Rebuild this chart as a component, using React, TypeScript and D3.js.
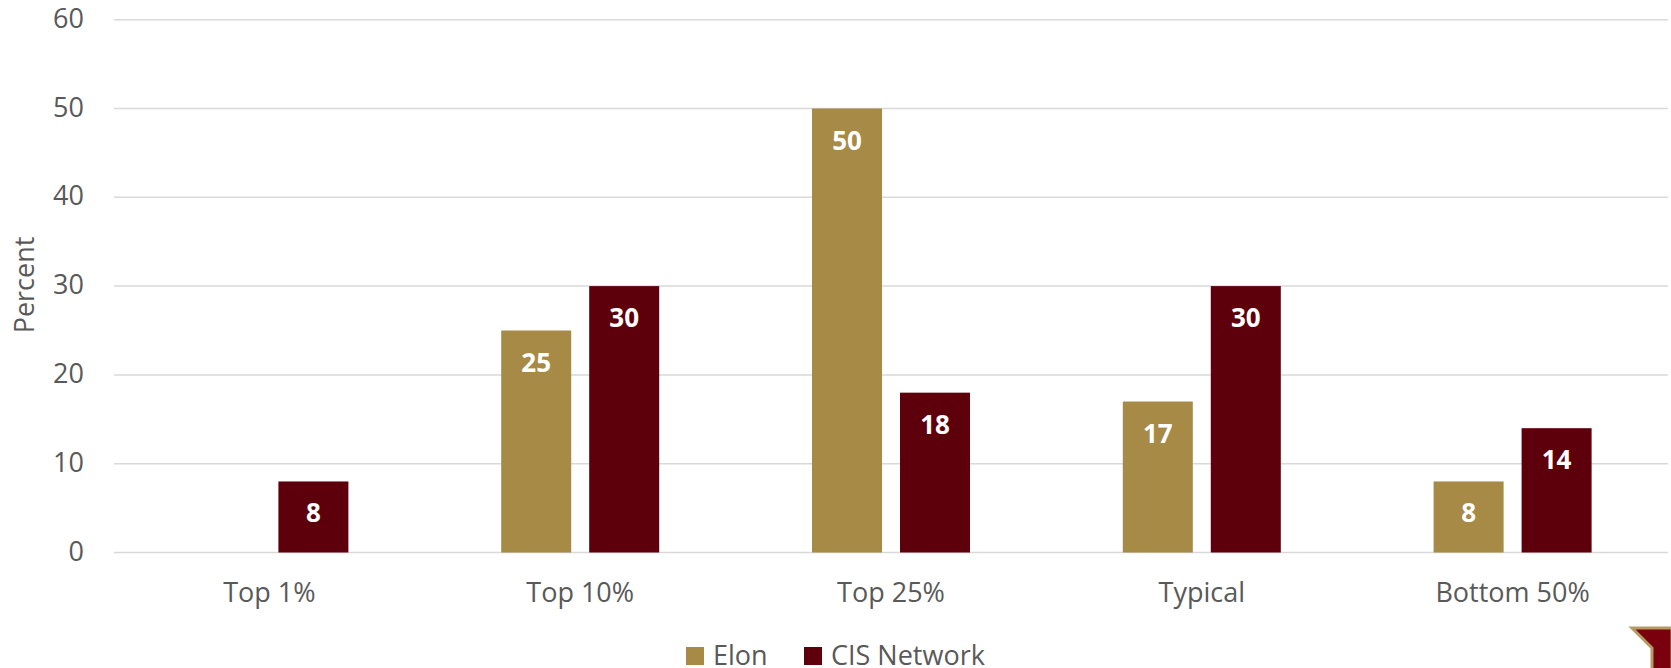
import React, { useRef, useEffect } from "react";
import * as d3 from "d3";

// chart data
const categories = ["Top 1%", "Top 10%", "Top 25%", "Typical", "Bottom 50%"];
const seriesNames = ["Elon", "CIS Network"];
const elonValues = [null, 25, 50, 17, 8];
const cisValues = [8, 30, 18, 30, 14];
const yTicks = [0, 10, 20, 30, 40, 50, 60];

const colors = ["#A68A46", "#5E000C"];

const App: React.FC = () => {
  const svgRef = useRef<SVGSVGElement>(null);

  useEffect(() => {
    const width = 1671;
    const height = 668;
    const left = 114;
    const right = 1668;
    const top = 19.7;
    const bottom = 552.5;
    const font = "'Open Sans', sans-serif";

    const svg = d3.select(svgRef.current);
    svg.selectAll("*").remove();
    svg.attr("width", width).attr("height", height);

    const x = d3.scaleBand<string>().domain(categories).range([left, right]);
    const y = d3.scaleLinear().domain([0, 60]).range([bottom, top]);

    // gridlines
    svg
      .append("g")
      .selectAll("line")
      .data(yTicks)
      .join("line")
      .attr("x1", left)
      .attr("x2", right)
      .attr("y1", (d) => y(d))
      .attr("y2", (d) => y(d))
      .attr("stroke", "#d9d9d9")
      .attr("stroke-width", 1.5);

    // y tick labels
    svg
      .append("g")
      .selectAll("text")
      .data(yTicks)
      .join("text")
      .attr("x", 84)
      .attr("y", (d) => y(d) + 8)
      .attr("text-anchor", "end")
      .attr("font-family", font)
      .attr("font-size", 27)
      .attr("fill", "#595959")
      .text((d) => d);

    // y title
    svg
      .append("text")
      .attr("transform", "translate(34,285) rotate(-90)")
      .attr("text-anchor", "middle")
      .attr("font-family", font)
      .attr("font-size", 27)
      .attr("fill", "#595959")
      .text("Percent");

    // x labels
    svg
      .append("g")
      .selectAll("text")
      .data(categories)
      .join("text")
      .attr("x", (d) => x(d)! + x.bandwidth() / 2)
      .attr("y", 602)
      .attr("text-anchor", "middle")
      .attr("font-family", font)
      .attr("font-size", 27)
      .attr("fill", "#595959")
      .text((d) => d);

    const rows = categories.flatMap((c, i) => [
      { cat: c, s: 0, v: elonValues[i] },
      { cat: c, s: 1, v: cisValues[i] },
    ]).filter((r) => r.v != null) as { cat: string; s: number; v: number }[];

    const xs = d3.scaleBand<number>().domain([0, 1]).range([-79, 79]).paddingInner(0.2045);

    const bars = svg.append("g");
    bars
      .selectAll("rect")
      .data(rows)
      .join("rect")
      .attr("x", (d) => x(d.cat)! + x.bandwidth() / 2 + xs(d.s)!)
      .attr("width", xs.bandwidth())
      .attr("y", (d) => y(d.v))
      .attr("height", (d) => y(0) - y(d.v))
      .attr("fill", (d) => colors[d.s]);

    bars
      .selectAll("text")
      .data(rows)
      .join("text")
      .attr("x", (d) => x(d.cat)! + x.bandwidth() / 2 + xs(d.s)! + xs.bandwidth() / 2)
      .attr("y", (d) => y(d.v) + 41)
      .attr("text-anchor", "middle")
      .attr("font-family", font)
      .attr("font-size", 26)
      .attr("font-weight", "bold")
      .attr("fill", "#ffffff")
      .text((d) => d.v);

    // legend
    const legendX = [686, 804];
    const legend = svg.append("g");
    legend
      .selectAll("rect")
      .data(seriesNames)
      .join("rect")
      .attr("x", (_, i) => legendX[i])
      .attr("y", 647)
      .attr("width", 18)
      .attr("height", 18)
      .attr("fill", (_, i) => colors[i]);
    legend
      .selectAll("text")
      .data(seriesNames)
      .join("text")
      .attr("x", (_, i) => legendX[i] + 27)
      .attr("y", 665)
      .attr("font-family", font)
      .attr("font-size", 27)
      .attr("fill", "#595959")
      .text((d) => d);

    // corner logo fragment
    svg
      .append("path")
      .attr("d", "M1632,628 L1672,628 L1672,670 L1652,670 L1652,648 Z")
      .attr("fill", "#7a000e")
      .attr("stroke", "#b59a62")
      .attr("stroke-width", 3);
  }, []);

  return (
    <svg
      ref={svgRef}
      style={{ position: "absolute", left: 0, top: 0, background: "#fff" }}
    ></svg>
  );
};

export default App;
